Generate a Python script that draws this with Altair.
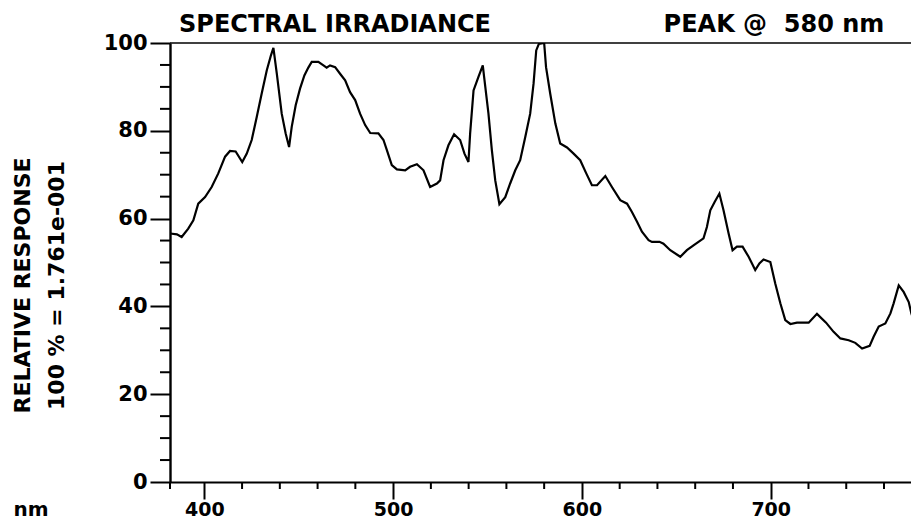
import altair as alt
import pandas as pd

# Spectral scan: wavelength (nm) and relative response (% of peak)
wavelength = [
    381.9, 385.5, 388.0, 391.5, 394.2, 396.8, 400.4, 403.9, 407.4, 411.0,
    413.6, 416.6, 420.1, 422.5, 425.1, 427.8, 430.4, 433.1, 435.3, 436.6,
    438.4, 441.0, 443.1, 444.9, 446.3, 448.4, 450.7, 453.0, 455.1, 456.9,
    460.4, 463.1, 464.8, 466.6, 469.3, 471.9, 474.6, 477.2, 479.9, 482.5,
    485.2, 487.9, 492.2, 494.9, 496.7, 499.3, 502.0, 506.4, 509.0, 512.6,
    516.1, 519.6, 523.2, 524.9, 526.7, 529.3, 532.3, 535.5, 537.8, 539.9,
    540.8, 542.6, 545.2, 547.5, 548.2, 550.5, 552.3, 554.1, 556.3, 559.4,
    562.0, 564.7, 567.3, 570.0, 572.6, 574.4, 575.8, 577.2, 580.0, 581.0,
    583.2, 585.9, 588.5, 592.1, 595.6, 599.1, 602.3, 605.3, 608.0, 612.4,
    615.9, 620.3, 623.9, 626.5, 629.2, 631.8, 635.3, 637.1, 641.1, 643.2,
    646.8, 652.1, 655.6, 659.1, 664.4, 666.2, 668.0, 670.3, 672.8, 675.0,
    677.7, 679.8, 682.1, 685.1, 688.3, 691.8, 694.0, 696.2, 699.8, 702.4,
    705.1, 707.7, 710.4, 713.9, 720.1, 724.5, 729.3, 733.3, 736.9, 741.3,
    744.8, 748.4, 752.4, 754.5, 757.2, 760.7, 763.4, 765.1, 767.8, 770.4,
    773.1, 774.5, 776.0,
]
response = [
    56.6, 56.4, 55.8, 57.7, 59.6, 63.4, 64.9, 67.2, 70.3, 74.1,
    75.4, 75.3, 72.9, 74.8, 77.9, 83.2, 88.5, 93.8, 97.2, 98.9,
    93.0, 83.9, 79.4, 76.3, 80.9, 85.8, 89.6, 92.6, 94.4, 95.7,
    95.7, 94.9, 94.4, 94.9, 94.5, 93.0, 91.5, 88.8, 87.0, 83.9,
    81.3, 79.5, 79.4, 77.9, 75.6, 72.2, 71.2, 71.0, 71.8, 72.4,
    71.0, 67.2, 68.0, 68.7, 73.3, 76.7, 79.2, 77.9, 74.8, 72.9,
    79.4, 89.2, 92.3, 94.9, 92.3, 83.9, 75.6, 68.7, 63.3, 64.9,
    68.0, 71.0, 73.3, 78.6, 83.9, 90.8, 98.3, 99.8, 100.0, 94.5,
    88.5, 81.7, 77.1, 76.2, 74.8, 73.3, 70.3, 67.6, 67.6, 69.7,
    67.2, 64.2, 63.4, 61.5, 59.3, 57.0, 55.1, 54.7, 54.7, 54.3,
    52.8, 51.3, 52.8, 53.9, 55.5, 58.1, 61.9, 63.8, 65.7, 61.9,
    56.6, 52.8, 53.6, 53.6, 51.3, 48.3, 49.8, 50.7, 50.1, 45.2,
    40.7, 36.9, 36.0, 36.3, 36.3, 38.3, 36.3, 34.2, 32.7, 32.3,
    31.7, 30.4, 31.0, 33.1, 35.4, 36.1, 38.4, 40.7, 44.8, 43.3,
    41.0, 38.4, 36.5,
]

# Axis ticks
x_major = [400, 500, 600, 700]
y_major = [0, 20, 40, 60, 80, 100]
X_MIN, X_MAX = 381.83, 774.3
x_minor = [X_MIN, 420, 440, 460, 480, 520, 540, 560, 580, 620, 640, 660, 680, 720, 740, 760]
y_minor = [5, 10, 15, 25, 30, 35, 45, 50, 55, 65, 70, 75, 85, 90, 95]

title_left = "SPECTRAL IRRADIANCE"
y_title = ["RELATIVE RESPONSE", "100 % = 1.761e-001"]
x_title = "nm"

FONT = "DejaVu Sans"
W, H = 741, 439

df = pd.DataFrame({"nm": wavelength, "value": response})
xs = alt.Scale(domain=[X_MIN, X_MAX], nice=False, zero=False)
ys = alt.Scale(domain=[0, 100], nice=False)

x_axis = alt.Axis(
    values=x_major, tickSize=17, tickWidth=2, tickColor="black",
    domainColor="black", domainWidth=1.8, grid=False,
    labelFont=FONT, labelFontSize=19, labelFontWeight="bold",
    labelColor="black", labelPadding=1, labelFlush=False,
    title=x_title, titleFont=FONT, titleFontSize=20, titleFontWeight="bold",
    titleColor="black", titleX=-157, titleY=33, titleAlign="left",
    titleBaseline="alphabetic", titleAnchor="start",
)
y_axis = alt.Axis(
    values=y_major, tickSize=20, tickWidth=2, tickColor="black",
    domainColor="black", domainWidth=2.4, grid=False,
    labelFont=FONT, labelFontSize=21, labelFontWeight="bold",
    labelColor="black", labelPadding=3,
    title=y_title, titleFont=FONT, titleFontSize=22, titleFontWeight="bold",
    titleColor="black", titleAngle=270, titleX=-158, titleY=242,
    titleAlign="center", titleBaseline="top", titleLineHeight=34,
)

line = alt.Chart(df).mark_line(
    color="black", strokeWidth=2.2, clip=True, strokeJoin="miter"
).encode(
    x=alt.X("nm:Q", scale=xs, axis=x_axis),
    y=alt.Y("value:Q", scale=ys, axis=y_axis),
)

# Minor ticks drawn through the shared scales
xm = alt.Chart(pd.DataFrame({"nm": x_minor})).mark_rule(
    color="black", strokeWidth=2
).encode(
    x=alt.X("nm:Q", scale=xs, axis=x_axis),
    y=alt.value(H), y2=alt.value(H + 7),
)
ym = alt.Chart(pd.DataFrame({"value": y_minor})).mark_rule(
    color="black", strokeWidth=2
).encode(
    y=alt.Y("value:Q", scale=ys, axis=y_axis),
    x=alt.value(0), x2=alt.value(-10),
)

# Top frame line
top = alt.Chart(alt.InlineData(values=[{}])).mark_rule(
    color="black", strokeWidth=1.6
).encode(x=alt.value(0), x2=alt.value(W), y=alt.value(0))

head_left = alt.Chart(alt.InlineData(values=[{}])).mark_text(
    text=title_left, font=FONT, fontSize=24, fontWeight="bold",
    color="black", align="center", baseline="alphabetic",
).encode(x=alt.value(165), y=alt.value(-11))

# Peak wavelength label, taken from the data's maximum
head_right = alt.Chart(df).transform_aggregate(
    peak="argmax(value)"
).transform_calculate(
    label="'PEAK @\u00a0 ' + datum.peak.nm + ' nm'"
).mark_text(
    font=FONT, fontSize=24, fontWeight="bold",
    color="black", align="center", baseline="alphabetic",
).encode(text="label:N", x=alt.value(604), y=alt.value(-11))

chart = alt.layer(line, xm, ym, top, head_left, head_right).properties(
    width=W, height=H,
    autosize=alt.AutoSizeParams(type="none"),
    padding={"left": 170, "top": 43, "right": 0, "bottom": 41},
    background="white",
).configure_view(stroke=None)

chart.save("out.html", embed_options={"renderer": "svg", "actions": False})
